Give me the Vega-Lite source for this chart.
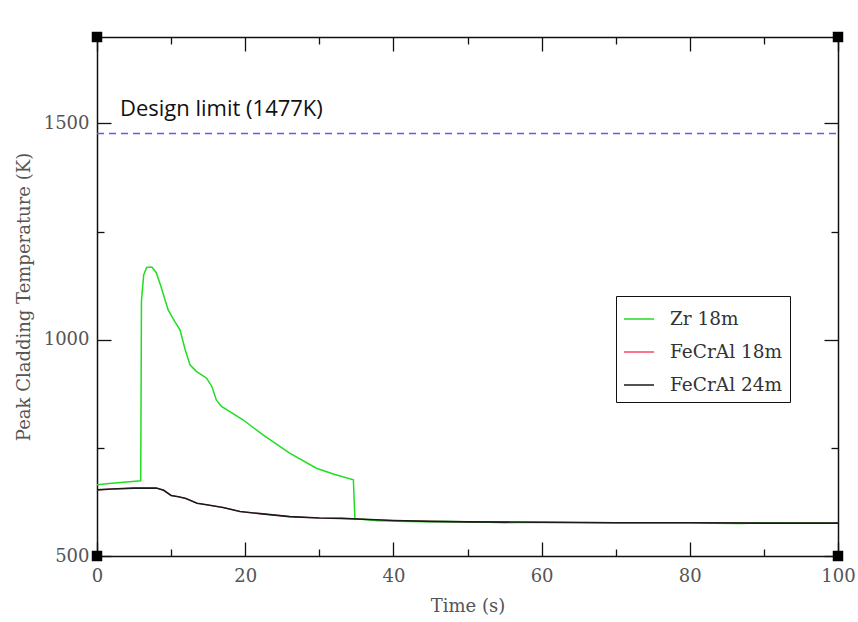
{
  "$schema": "https://vega.github.io/schema/vega-lite/v6.json",
  "width": 741,
  "height": 519,
  "autosize": "none",
  "padding": {"left": 97, "top": 37, "right": 20, "bottom": 66},
  "background": "white",
  "config": {
    "view": {"stroke": null},
    "axis": {
      "domainColor": "#111",
      "domainWidth": 1.5,
      "tickColor": "#111",
      "tickWidth": 1.3,
      "grid": false,
      "labelFont": "DejaVu Serif",
      "labelFontSize": 18,
      "labelColor": "#555",
      "titleFont": "DejaVu Serif",
      "titleFontSize": 18,
      "titleFontWeight": "normal",
      "titleColor": "#555",
      "format": "d"
    }
  },
  "datasets": {
    "lines": [
      {"s": "Zr 18m", "t": 0, "T": 665},
      {"s": "Zr 18m", "t": 2, "T": 668},
      {"s": "Zr 18m", "t": 4, "T": 671},
      {"s": "Zr 18m", "t": 5.9, "T": 674},
      {"s": "Zr 18m", "t": 6.0, "T": 1090},
      {"s": "Zr 18m", "t": 6.3, "T": 1150},
      {"s": "Zr 18m", "t": 6.7, "T": 1167},
      {"s": "Zr 18m", "t": 7.4, "T": 1168},
      {"s": "Zr 18m", "t": 8.0, "T": 1155},
      {"s": "Zr 18m", "t": 8.6, "T": 1125},
      {"s": "Zr 18m", "t": 9.6, "T": 1069},
      {"s": "Zr 18m", "t": 10.5, "T": 1042},
      {"s": "Zr 18m", "t": 11.2, "T": 1023},
      {"s": "Zr 18m", "t": 11.9, "T": 977},
      {"s": "Zr 18m", "t": 12.55, "T": 942},
      {"s": "Zr 18m", "t": 13.4, "T": 927},
      {"s": "Zr 18m", "t": 14.8, "T": 911},
      {"s": "Zr 18m", "t": 15.5, "T": 892},
      {"s": "Zr 18m", "t": 16.1, "T": 861},
      {"s": "Zr 18m", "t": 16.8, "T": 846},
      {"s": "Zr 18m", "t": 19.7, "T": 815},
      {"s": "Zr 18m", "t": 22.4, "T": 780},
      {"s": "Zr 18m", "t": 26.0, "T": 738},
      {"s": "Zr 18m", "t": 29.6, "T": 703},
      {"s": "Zr 18m", "t": 32.0, "T": 689},
      {"s": "Zr 18m", "t": 34.6, "T": 676},
      {"s": "Zr 18m", "t": 34.8, "T": 586},
      {"s": "Zr 18m", "t": 38, "T": 581.5},
      {"s": "Zr 18m", "t": 42, "T": 579.5},
      {"s": "Zr 18m", "t": 45, "T": 579},
      {"s": "Zr 18m", "t": 47, "T": 580},
      {"s": "Zr 18m", "t": 52, "T": 578.5},
      {"s": "Zr 18m", "t": 55, "T": 577},
      {"s": "Zr 18m", "t": 58, "T": 578},
      {"s": "Zr 18m", "t": 70, "T": 577},
      {"s": "Zr 18m", "t": 81, "T": 577},
      {"s": "Zr 18m", "t": 83, "T": 575.5},
      {"s": "Zr 18m", "t": 87, "T": 575},
      {"s": "Zr 18m", "t": 89, "T": 576.5},
      {"s": "Zr 18m", "t": 100, "T": 576},
      {"s": "FeCrAl 18m", "t": 0, "T": 653},
      {"s": "FeCrAl 18m", "t": 2, "T": 655},
      {"s": "FeCrAl 18m", "t": 5, "T": 657},
      {"s": "FeCrAl 18m", "t": 8, "T": 657},
      {"s": "FeCrAl 18m", "t": 9, "T": 652},
      {"s": "FeCrAl 18m", "t": 10, "T": 640},
      {"s": "FeCrAl 18m", "t": 11, "T": 637},
      {"s": "FeCrAl 18m", "t": 12, "T": 633},
      {"s": "FeCrAl 18m", "t": 13.5, "T": 622},
      {"s": "FeCrAl 18m", "t": 15, "T": 618},
      {"s": "FeCrAl 18m", "t": 17, "T": 612},
      {"s": "FeCrAl 18m", "t": 19.3, "T": 603},
      {"s": "FeCrAl 18m", "t": 22, "T": 598},
      {"s": "FeCrAl 18m", "t": 26, "T": 591},
      {"s": "FeCrAl 18m", "t": 30, "T": 588},
      {"s": "FeCrAl 18m", "t": 33, "T": 587},
      {"s": "FeCrAl 18m", "t": 36, "T": 585},
      {"s": "FeCrAl 18m", "t": 40, "T": 582},
      {"s": "FeCrAl 18m", "t": 45, "T": 580},
      {"s": "FeCrAl 18m", "t": 50, "T": 579},
      {"s": "FeCrAl 18m", "t": 60, "T": 578},
      {"s": "FeCrAl 18m", "t": 70, "T": 577},
      {"s": "FeCrAl 18m", "t": 80, "T": 577},
      {"s": "FeCrAl 18m", "t": 90, "T": 576},
      {"s": "FeCrAl 18m", "t": 100, "T": 576},
      {"s": "FeCrAl 24m", "t": 0, "T": 653},
      {"s": "FeCrAl 24m", "t": 2, "T": 655},
      {"s": "FeCrAl 24m", "t": 5, "T": 657},
      {"s": "FeCrAl 24m", "t": 8, "T": 657},
      {"s": "FeCrAl 24m", "t": 9, "T": 652},
      {"s": "FeCrAl 24m", "t": 10, "T": 640},
      {"s": "FeCrAl 24m", "t": 11, "T": 637},
      {"s": "FeCrAl 24m", "t": 12, "T": 633},
      {"s": "FeCrAl 24m", "t": 13.5, "T": 622},
      {"s": "FeCrAl 24m", "t": 15, "T": 618},
      {"s": "FeCrAl 24m", "t": 17, "T": 612},
      {"s": "FeCrAl 24m", "t": 19.3, "T": 603},
      {"s": "FeCrAl 24m", "t": 22, "T": 598},
      {"s": "FeCrAl 24m", "t": 26, "T": 591},
      {"s": "FeCrAl 24m", "t": 30, "T": 588},
      {"s": "FeCrAl 24m", "t": 33, "T": 587},
      {"s": "FeCrAl 24m", "t": 36, "T": 585},
      {"s": "FeCrAl 24m", "t": 40, "T": 582},
      {"s": "FeCrAl 24m", "t": 45, "T": 580},
      {"s": "FeCrAl 24m", "t": 50, "T": 579},
      {"s": "FeCrAl 24m", "t": 60, "T": 578},
      {"s": "FeCrAl 24m", "t": 70, "T": 577},
      {"s": "FeCrAl 24m", "t": 80, "T": 577},
      {"s": "FeCrAl 24m", "t": 90, "T": 576},
      {"s": "FeCrAl 24m", "t": 100, "T": 576}
    ],
    "corners": [
      {"t": 0, "T": 500},
      {"t": 100, "T": 500},
      {"t": 0, "T": 1700},
      {"t": 100, "T": 1700}
    ],
    "limit": [
      {"T": 1477, "t0": 0, "t1": 100, "label": "Design limit (1477K)", "lt": 3.1, "lT": 1518}
    ]
  },
  "resolve": {"axis": {"x": "independent", "y": "independent"}},
  "layer": [
    {
      "data": {"name": "lines"},
      "transform": [{"filter": "datum.s === 'FeCrAl 18m'"}],
      "mark": {"type": "line", "strokeWidth": 1.1},
      "encoding": {
        "x": {
          "field": "t", "type": "quantitative",
          "scale": {"domain": [0, 100], "nice": false, "zero": false},
          "axis": {
            "orient": "bottom",
            "title": "Time (s)",
            "titlePadding": 12,
            "values": [0, 10, 20, 30, 40, 50, 60, 70, 80, 90, 100],
            "labelExpr": "datum.value % 20 === 0 ? datum.label : ''",
            "tickSize": {"condition": {"test": "datum.value % 20 === 0", "value": -14}, "value": -7},
            "labelPadding": 25,
            "labelFlush": false
          }
        },
        "y": {
          "field": "T", "type": "quantitative",
          "scale": {"domain": [500, 1700], "nice": false, "zero": false},
          "axis": {
            "orient": "left",
            "title": "Peak Cladding Temperature (K)",
            "titlePadding": 10,
            "values": [500, 750, 1000, 1250, 1500],
            "labelExpr": "datum.value % 500 === 0 ? datum.label : ''",
            "tickSize": {"condition": {"test": "datum.value % 500 === 0", "value": -14}, "value": -7},
            "labelPadding": 22,
            "labelFlush": false
          }
        },
        "color": {
          "field": "s", "type": "nominal",
          "scale": {"domain": ["Zr 18m", "FeCrAl 18m", "FeCrAl 24m"], "range": ["#22dd22", "#ff4466", "#1a1a1a"]},
          "legend": {
            "title": null,
            "orient": "none",
            "legendX": 519,
            "legendY": 259,
            "symbolType": "stroke",
            "symbolSize": 900,
            "symbolStrokeWidth": 1.5,
            "labelFont": "DejaVu Serif",
            "labelFontSize": 18.5,
            "labelColor": "#333",
            "labelOffset": 15,
            "rowPadding": 7,
            "padding": 7,
            "strokeColor": "#111",
            "fillColor": "white"
          }
        }
      }
    },
    {
      "data": {"name": "lines"},
      "transform": [{"filter": "datum.s === 'Zr 18m'"}],
      "mark": {"type": "line", "strokeWidth": 1.5},
      "encoding": {
        "x": {"field": "t", "type": "quantitative", "axis": null},
        "y": {"field": "T", "type": "quantitative", "axis": null},
        "color": {"field": "s", "type": "nominal"}
      }
    },
    {
      "data": {"name": "lines"},
      "transform": [{"filter": "datum.s === 'FeCrAl 24m'"}],
      "mark": {"type": "line", "strokeWidth": 1.6},
      "encoding": {
        "x": {"field": "t", "type": "quantitative", "axis": null},
        "y": {"field": "T", "type": "quantitative", "axis": null},
        "color": {"field": "s", "type": "nominal"}
      }
    },
    {
      "data": {"name": "limit"},
      "mark": {"type": "rule", "color": "#6f55f0", "strokeDash": [7, 5], "strokeWidth": 1.4},
      "encoding": {
        "x": {"field": "t0", "type": "quantitative", "axis": null},
        "x2": {"field": "t1"},
        "y": {"field": "T", "type": "quantitative", "axis": null}
      }
    },
    {
      "data": {"name": "limit"},
      "mark": {"type": "text", "font": "Open Sans", "fontSize": 22, "color": "#111", "align": "left", "baseline": "alphabetic"},
      "encoding": {
        "x": {"field": "lt", "type": "quantitative", "axis": null},
        "y": {"field": "lT", "type": "quantitative", "axis": null},
        "text": {"field": "label"}
      }
    },
    {
      "data": {"name": "corners"},
      "mark": {"type": "point", "shape": "square", "filled": true, "color": "#000", "size": 110, "opacity": 1},
      "encoding": {
        "x": {
          "field": "t", "type": "quantitative",
          "axis": {
            "orient": "top", "title": null, "labels": false,
            "values": [0, 10, 20, 30, 40, 50, 60, 70, 80, 90, 100],
            "tickSize": {"condition": {"test": "datum.value % 20 === 0", "value": -14}, "value": -7}
          }
        },
        "y": {
          "field": "T", "type": "quantitative",
          "axis": {
            "orient": "right", "title": null, "labels": false,
            "values": [500, 750, 1000, 1250, 1500],
            "tickSize": {"condition": {"test": "datum.value % 500 === 0", "value": -14}, "value": -7}
          }
        }
      }
    }
  ]
}
